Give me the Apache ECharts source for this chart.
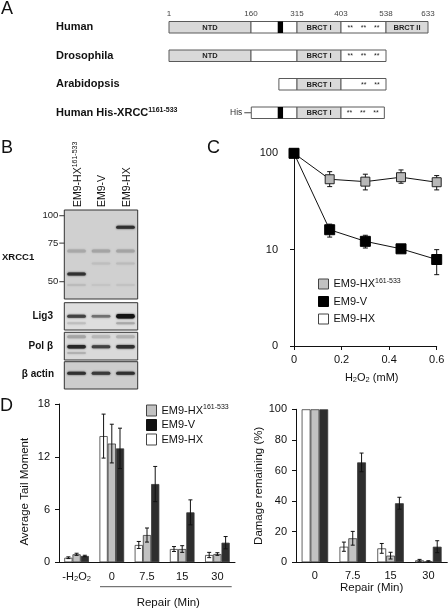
<!DOCTYPE html>
<html><head><meta charset="utf-8">
<script src="https://cdn.jsdelivr.net/npm/echarts@6/dist/echarts.min.js"></script>
<style>html,body{margin:0;padding:0;background:#fff}#c{width:448px;height:608px}</style>
</head><body><div id="c"></div>
<script>
// ===== Panel A: domain architecture =====
const constructs = ['Human', 'Drosophila', 'Arabidopsis', 'Human His-XRCC1161-533'];
const residueTicks = [1, 160, 315, 403, 538, 633];
// [row, startResidue, endResidue, kind, label]
const domains = [
  [0, 1, 160, 'fill', 'NTD'], [0, 160, 315, 'empty', ''], [0, 250, 268, 'nls', ''],
  [0, 315, 403, 'fill', 'BRCT I'], [0, 403, 538, 'empty', '**    **    **'], [0, 538, 633, 'fill', 'BRCT II'],
  [1, 1, 160, 'fill', 'NTD'], [1, 160, 315, 'empty', ''], [1, 315, 403, 'fill', 'BRCT I'],
  [1, 403, 538, 'empty', '**    **    **'],
  [2, 254, 315, 'empty', ''], [2, 315, 403, 'fill', 'BRCT I'], [2, 403, 538, 'empty', '       **    **'],
  [3, 161, 161, 'his', 'His'], [3, 161, 315, 'empty', ''], [3, 250, 268, 'nls', ''],
  [3, 315, 403, 'fill', 'BRCT I'], [3, 403, 533, 'empty', '**    **    **']
];
// ===== Panel B: western blots =====
const lanes = ['EM9-HX161-533', 'EM9-V', 'EM9-HX'];
const markerKDa = [100, 75, 50];
// [lane, kDa, intensity, thickness]
const xrcc1Bands = [[0, 54.2, 0.85, 3], [2, 88.5, 0.85, 3], [0, 69, 0.2, 3], [1, 69, 0.22, 3], [2, 69, 0.22, 3],
  [1, 60.6, 0.08, 2], [2, 60.6, 0.1, 2], [0, 48.3, 0.1, 2], [1, 48.3, 0.05, 2], [2, 48.3, 0.06, 2]];
// [lane, relative position, intensity, thickness]
const lig3Bands = [[0, 0.5, 0.75, 3], [1, 0.5, 0.5, 2.5], [2, 0.5, 1, 4.5], [2, 0.25, 0.2, 2], [0, 0.25, 0.08, 2]];
const polbBands = [[0, 0.48, 0.9, 3.5], [1, 0.48, 0.75, 3], [2, 0.48, 0.85, 3.5], [0, 0.84, 0.22, 3], [1, 0.84, 0.12, 3], [2, 0.84, 0.15, 3], [0, 0.25, 0.15, 2]];
const actinBands = [[0, 0.575, 0.85, 3], [1, 0.575, 0.8, 3], [2, 0.575, 0.85, 3]];
// ===== Panel C: survival =====
const doseMM = [0, 0.15, 0.3, 0.45, 0.6];
const survHX161 = [100, 53.8, 50.8, 56.5, 50.1];
const survHX161Lo = [100, 45.1, 41.7, 48.9, 41.7];
const survHX161Hi = [100, 64.5, 60.7, 67.2, 58.7];
const survV = [100, 16.1, 12.2, 10.2, 7.9];
const survVLo = [100, 13.5, 10.4, 10.0, 5.5];
const survVHi = [100, 18.4, 14.1, 10.4, 10.0];
const survHX = [];
// ===== Panel D left: tail moment =====
const tailCats = ['-H2O2', '0', '7.5', '15', '30'];
const tailHX = [0.52, 14.35, 1.97, 1.51, 0.83];
const tailHXErr = [0.1, 2.5, 0.4, 0.28, 0.3];
const tailHX161 = [0.91, 13.5, 3.1, 1.51, 0.94];
const tailHX161Err = [0.12, 2.2, 0.8, 0.38, 0.15];
const tailV = [0.72, 12.95, 8.9, 5.68, 2.23];
const tailVErr = [0.08, 2.3, 2.0, 1.42, 0.7];
// ===== Panel D right: damage remaining =====
const damCats = ['0', '7.5', '15', '30'];
const damHX = [100, 10.2, 9.1, 1.3];
const damHXErr = [0, 3, 3.2, 0.6];
const damHX161 = [100, 15.7, 4.35, 0.65];
const damHX161Err = [0, 4.5, 2.2, 0.4];
const damV = [100, 65.3, 38.6, 10.2];
const damVErr = [0, 6.1, 3.9, 3.9];

const FONT = 'Liberation Sans, Arial, Helvetica, sans-serif';
const C_WHITE = '#ffffff', C_GRAY = '#c2c2c2', C_BLACK = '#2e2e2e';

// schematic (not-to-scale) layout of residue positions
const BREAK_RES = [1, 160, 315, 403, 538, 633];
const BREAK_UNIT = [0, 82, 128, 172, 217, 259];
function toUnit(r) {
  for (let i = 1; i < BREAK_RES.length; i++) {
    if (r <= BREAK_RES[i] || i === BREAK_RES.length - 1) {
      const a = BREAK_RES[i - 1], b = BREAK_RES[i];
      return BREAK_UNIT[i - 1] + (r - a) / (b - a) * (BREAK_UNIT[i] - BREAK_UNIT[i - 1]);
    }
  }
}
function supRich(size, bold) {
  return {
    m: { fontSize: size, fontFamily: FONT, fontWeight: bold ? 'bold' : 'normal', color: '#111', fill: '#111', lineHeight: size + 2 },
    sup: { fontSize: Math.round(size * 0.62), fontFamily: FONT, fontWeight: bold ? 'bold' : 'normal', color: '#111', fill: '#111', verticalAlign: 'top', lineHeight: size * 0.62 },
    s: { fontSize: Math.round(size * 0.68), fontFamily: FONT, color: '#111', fill: '#111', verticalAlign: 'bottom', lineHeight: size * 0.7 }
  };
}
function fmtName(n) {
  const m = n.match(/^(.*?)(\d+-\d+)$/);
  return m ? '{m|' + m[1] + '}{sup|' + m[2] + '}' : '{m|' + n + '}';
}

function renderDomain(params, api) {
  const d = domains[params.dataIndex];
  const row = d[0], kind = d[3], label = d[4];
  const p0 = api.coord([toUnit(d[1]), row]);
  const p1 = api.coord([toUnit(d[2]), row]);
  const cy = p0[1], h = 11.5;
  if (kind === 'his') {
    return { type: 'group', children: [
      { type: 'line', shape: { x1: p0[0] - 7, y1: cy, x2: p0[0], y2: cy }, style: { stroke: '#444', lineWidth: 1 } },
      { type: 'text', style: { text: label, x: p0[0] - 9, y: cy, align: 'right', verticalAlign: 'middle', fontSize: 8.5, fontFamily: FONT, fill: '#333' } }
    ] };
  }
  const fill = kind === 'fill' ? '#d9d9d9' : (kind === 'nls' ? '#000' : '#fff');
  const children = [{ type: 'rect', shape: { x: p0[0], y: cy - h / 2, width: p1[0] - p0[0], height: h },
    style: { fill: fill, stroke: kind === 'nls' ? null : '#5a5a5a', lineWidth: 1 } }];
  if (label) children.push({ type: 'text', style: { text: label, x: (p0[0] + p1[0]) / 2, y: cy + 0.5, align: 'center', verticalAlign: 'middle',
    fontSize: kind === 'fill' ? 7.5 : 7, fontWeight: kind === 'fill' ? 'bold' : 'normal', fontFamily: FONT, fill: '#222' } });
  return { type: 'group', children: children };
}
function renderResTick(params, api) {
  const p = api.coord([toUnit(api.value(0)), 0]);
  return { type: 'text', style: { text: String(api.value(0)), x: p[0], y: p[1] - 13.5, align: 'center', verticalAlign: 'middle', fontSize: 8, fontFamily: FONT, fill: '#444' } };
}
function renderMarker(params, api) {
  const p = api.coord([0, api.value(1)]);
  const left = params.coordSys.x;
  return { type: 'group', children: [
    { type: 'line', shape: { x1: left - 5, y1: p[1], x2: left, y2: p[1] }, style: { stroke: '#333', lineWidth: 1 } },
    { type: 'text', style: { text: String(api.value(1)), x: left - 6, y: p[1], align: 'right', verticalAlign: 'middle', fontSize: 9.5, fontFamily: FONT, fill: '#222' } }
  ] };
}
function renderLane(params, api) {
  const p = api.coord([api.value(0), 100]);
  const top = params.coordSys.y;
  return { type: 'text', x: p[0] + 1.5, y: top - 3, rotation: Math.PI / 2,
    style: { text: fmtName(lanes[params.dataIndex]), align: 'left', verticalAlign: 'middle', rich: supRich(10.5, false) } };
}
function renderBand(params, api) {
  const p = api.coord([api.value(0), api.value(1)]);
  const bw = api.size([1, 0])[0] * 0.76;
  const it = api.value(2), th = api.value(3);
  const g = Math.round(205 - it * 185);
  const col = 'rgb(' + g + ',' + g + ',' + g + ')';
  return { type: 'rect', shape: { x: p[0] - bw / 2, y: p[1] - th / 2, width: bw, height: th, r: th / 2 },
    style: { fill: col, shadowBlur: 2, shadowColor: col } };
}
function renderVErr(params, api) {
  const x = api.value(0);
  const a = api.coord([x, api.value(1)]), b = api.coord([x, api.value(2)]);
  const c = 2.5, st = { stroke: '#111', lineWidth: 1 };
  return { type: 'group', children: [
    { type: 'line', shape: { x1: a[0], y1: a[1], x2: b[0], y2: b[1] }, style: st },
    { type: 'line', shape: { x1: a[0] - c, y1: a[1], x2: a[0] + c, y2: a[1] }, style: st },
    { type: 'line', shape: { x1: b[0] - c, y1: b[1], x2: b[0] + c, y2: b[1] }, style: st }
  ] };
}
const GAP = 0.3;
function renderGroupErr(params, api) {
  const cat = api.value(0), s = api.value(1);
  const band = api.size([1, 0])[0];
  const bw = band * (1 - GAP) / 3;
  const cx = api.coord([cat, 0])[0] + (s - 1) * bw;
  const yLo = api.coord([cat, api.value(2)])[1], yHi = api.coord([cat, api.value(3)])[1];
  const c = 2, st = { stroke: '#111', lineWidth: 1 };
  return { type: 'group', children: [
    { type: 'line', shape: { x1: cx, y1: yLo, x2: cx, y2: yHi }, style: st },
    { type: 'line', shape: { x1: cx - c, y1: yLo, x2: cx + c, y2: yLo }, style: st },
    { type: 'line', shape: { x1: cx - c, y1: yHi, x2: cx + c, y2: yHi }, style: st }
  ] };
}
function errData(vals, errs) {
  const out = [];
  vals.forEach((v, s) => v.forEach((y, i) => { if (errs[s][i] > 0) out.push([i, s, Math.max(0, y - errs[s][i]), y + errs[s][i]]); }));
  return out;
}

const axisLineStyle = { lineStyle: { color: '#111', width: 1 } };
const lbl = { fontSize: 11, fontFamily: FONT, color: '#111' };
const hidden = { show: false };

const grids = [
  { left: 169, top: 13, width: 259, height: 114 },                     // 0 A
  { left: 64.3, top: 210, width: 73.4, height: 89, show: true, backgroundColor: '#d0d0d0', borderColor: '#333', borderWidth: 1 }, // 1 XRCC1
  { left: 64.3, top: 302.7, width: 73.4, height: 27.3, show: true, backgroundColor: '#dedede', borderColor: '#333', borderWidth: 1 }, // 2 Lig3
  { left: 64.3, top: 332.3, width: 73.4, height: 27.7, show: true, backgroundColor: '#dadada', borderColor: '#333', borderWidth: 1 }, // 3 Pol b
  { left: 64.3, top: 361.7, width: 73.4, height: 27.3, show: true, backgroundColor: '#cdcdcd', borderColor: '#333', borderWidth: 1 }, // 4 actin
  { left: 294, top: 153.3, width: 142.7, height: 192.7 },               // 5 C
  { left: 59, top: 404, width: 176, height: 158.3 },                    // 6 D left
  { left: 296, top: 409.3, width: 151.3, height: 153 }                  // 7 D right
].map(g => Object.assign({ outerBoundsMode: 'none', containLabel: false }, g));

const xAxes = [
  { gridIndex: 0, type: 'value', min: 0, max: 259, show: false },
  { gridIndex: 1, type: 'category', data: lanes, show: false },
  { gridIndex: 2, type: 'category', data: lanes, show: false },
  { gridIndex: 3, type: 'category', data: lanes, show: false },
  { gridIndex: 4, type: 'category', data: lanes, show: false },
  { gridIndex: 5, type: 'value', min: 0, max: 0.6, interval: 0.2, axisLine: axisLineStyle, axisTick: { length: 4, lineStyle: { color: '#111' } },
    splitLine: hidden, axisLabel: Object.assign({ margin: 8 }, lbl) },
  { gridIndex: 6, type: 'category', data: tailCats, axisLine: axisLineStyle, axisTick: { length: 4, lineStyle: { color: '#111' } },
    axisLabel: { margin: 8, interval: 0, formatter: v => v === '-H2O2' ? '{n|-H}{s|2}{n|O}{s|2}' : '{n|' + v + '}',
      rich: { n: { fontSize: 11, fontFamily: FONT, color: '#111', lineHeight: 13 }, s: { fontSize: 7.5, fontFamily: FONT, color: '#111', verticalAlign: 'bottom', lineHeight: 9 } } } },
  { gridIndex: 7, type: 'category', data: damCats, axisLine: axisLineStyle, axisTick: { length: 4, lineStyle: { color: '#111' } },
    axisLabel: Object.assign({ margin: 8, interval: 0 }, lbl),
    name: 'Repair (Min)', nameLocation: 'middle', nameGap: 20, nameTextStyle: { fontSize: 11.5, fontFamily: FONT, color: '#111' } }
];
const yAxes = [
  { gridIndex: 0, type: 'category', data: constructs, inverse: true, axisLine: hidden, axisTick: hidden,
    axisLabel: { align: 'left', margin: 113, formatter: fmtName, rich: supRich(11, true) } },
  { gridIndex: 1, type: 'log', logBase: 10, min: 41.7, max: 106.2, show: false },
  { gridIndex: 2, type: 'value', min: 0, max: 1, show: false },
  { gridIndex: 3, type: 'value', min: 0, max: 1, show: false },
  { gridIndex: 4, type: 'value', min: 0, max: 1, show: false },
  { gridIndex: 5, type: 'log', logBase: 10, min: 1, max: 100, axisLine: { show: true, lineStyle: { color: '#111', width: 1 } },
    axisTick: { show: true, length: 4, lineStyle: { color: '#111' } }, splitLine: hidden,
    axisLabel: Object.assign({ margin: 16, formatter: v => Math.round(v) === 1 ? '0' : String(Math.round(v)) }, lbl) },
  { gridIndex: 6, type: 'value', min: 0, max: 18, interval: 6, axisLine: { show: true, lineStyle: { color: '#111', width: 1 } },
    axisTick: { show: true, length: 4, lineStyle: { color: '#111' } }, splitLine: hidden, axisLabel: Object.assign({ margin: 9 }, lbl) },
  { gridIndex: 7, type: 'value', min: 0, max: 100, interval: 20, axisLine: { show: true, lineStyle: { color: '#111', width: 1 } },
    axisTick: { show: true, length: 4, lineStyle: { color: '#111' } }, splitLine: hidden, axisLabel: Object.assign({ margin: 9 }, lbl),
    name: 'Damage remaining (%)', nameLocation: 'middle', nameGap: 29, nameRotate: 90, nameTextStyle: { fontSize: 11.5, fontFamily: FONT, color: '#111' } }
];

const barStyle = (fill) => ({ color: fill, borderColor: '#3a3a3a', borderWidth: 0.8 });
const series = [
  { type: 'custom', xAxisIndex: 0, yAxisIndex: 0, renderItem: renderDomain, data: domains.map(d => [d[0], d[1], d[2]]), encode: { x: [1, 2], y: 0 } },
  { type: 'custom', xAxisIndex: 0, yAxisIndex: 0, renderItem: renderResTick, data: residueTicks.map(r => [r, 0]), encode: { x: 0, y: 1 } },
  { type: 'custom', xAxisIndex: 1, yAxisIndex: 1, renderItem: renderMarker, data: markerKDa.map(k => [0, k]), encode: { x: 0, y: 1 } },
  { type: 'custom', xAxisIndex: 1, yAxisIndex: 1, renderItem: renderLane, data: lanes.map((l, i) => [i, 100]), encode: { x: 0, y: 1 } },
  { type: 'custom', xAxisIndex: 1, yAxisIndex: 1, renderItem: renderBand, data: xrcc1Bands, encode: { x: 0, y: 1 } },
  { type: 'custom', xAxisIndex: 2, yAxisIndex: 2, renderItem: renderBand, data: lig3Bands, encode: { x: 0, y: 1 } },
  { type: 'custom', xAxisIndex: 3, yAxisIndex: 3, renderItem: renderBand, data: polbBands, encode: { x: 0, y: 1 } },
  { type: 'custom', xAxisIndex: 4, yAxisIndex: 4, renderItem: renderBand, data: actinBands, encode: { x: 0, y: 1 } },
  // C
  { type: 'custom', xAxisIndex: 5, yAxisIndex: 5, z: 2, renderItem: renderVErr, encode: { x: 0, y: [1, 2] },
    data: doseMM.map((x, i) => [x, survHX161Lo[i], survHX161Hi[i]]) },
  { type: 'custom', xAxisIndex: 5, yAxisIndex: 5, z: 2, renderItem: renderVErr, encode: { x: 0, y: [1, 2] },
    data: doseMM.map((x, i) => [x, survVLo[i], survVHi[i]]) },
  { name: 'EM9-HX', type: 'line', xAxisIndex: 5, yAxisIndex: 5, z: 3, data: survHX, symbol: 'rect', symbolSize: 9,
    itemStyle: { color: C_WHITE, borderColor: '#222', borderWidth: 1 }, lineStyle: { color: '#111', width: 1 } },
  { name: 'EM9-HX161-533', type: 'line', xAxisIndex: 5, yAxisIndex: 5, z: 3, data: doseMM.map((x, i) => [x, survHX161[i]]),
    symbol: 'rect', symbolSize: 9, itemStyle: { color: '#b8b8b8', borderColor: '#222', borderWidth: 1 }, lineStyle: { color: '#111', width: 1 } },
  { name: 'EM9-V', type: 'line', xAxisIndex: 5, yAxisIndex: 5, z: 4, data: doseMM.map((x, i) => [x, survV[i]]),
    symbol: 'rect', symbolSize: 10, itemStyle: { color: '#000', borderColor: '#000', borderWidth: 1 }, lineStyle: { color: '#111', width: 1 } },
  // D left
  { name: 'EM9-HX', type: 'bar', xAxisIndex: 6, yAxisIndex: 6, data: tailHX, barGap: 0, barCategoryGap: '30%', itemStyle: barStyle(C_WHITE) },
  { name: 'EM9-HX161-533', type: 'bar', xAxisIndex: 6, yAxisIndex: 6, data: tailHX161, barGap: 0, barCategoryGap: '30%', itemStyle: barStyle(C_GRAY) },
  { name: 'EM9-V', type: 'bar', xAxisIndex: 6, yAxisIndex: 6, data: tailV, barGap: 0, barCategoryGap: '30%', itemStyle: barStyle(C_BLACK) },
  { type: 'custom', xAxisIndex: 6, yAxisIndex: 6, z: 5, renderItem: renderGroupErr, encode: { x: 0, y: [2, 3] },
    data: errData([tailHX, tailHX161, tailV], [tailHXErr, tailHX161Err, tailVErr]) },
  // D right
  { name: 'EM9-HX', type: 'bar', xAxisIndex: 7, yAxisIndex: 7, data: damHX, barGap: 0, barCategoryGap: '30%', itemStyle: barStyle(C_WHITE) },
  { name: 'EM9-HX161-533', type: 'bar', xAxisIndex: 7, yAxisIndex: 7, data: damHX161, barGap: 0, barCategoryGap: '30%', itemStyle: barStyle(C_GRAY) },
  { name: 'EM9-V', type: 'bar', xAxisIndex: 7, yAxisIndex: 7, data: damV, barGap: 0, barCategoryGap: '30%', itemStyle: barStyle(C_BLACK) },
  { type: 'custom', xAxisIndex: 7, yAxisIndex: 7, z: 5, renderItem: renderGroupErr, encode: { x: 0, y: [2, 3] },
    data: errData([damHX, damHX161, damV], [damHXErr, damHX161Err, damVErr]) }
];

const legendItems = (black) => [
  { name: 'EM9-HX161-533', icon: 'rect', itemStyle: { color: C_GRAY, borderColor: '#444', borderWidth: 1 } },
  { name: 'EM9-V', icon: 'rect', itemStyle: { color: black, borderColor: black, borderWidth: 1 } },
  { name: 'EM9-HX', icon: 'rect', itemStyle: { color: '#fff', borderColor: '#444', borderWidth: 1 } }
];
const legendText = { rich: supRich(11, false) };

const txt = (text, x, y, opts) => ({ type: 'text', x: x, y: y, style: Object.assign({ text: text, fontFamily: FONT, fontSize: 11, fill: '#111' }, opts || {}) });

const option = {
  animation: false,
  backgroundColor: '#fff',
  textStyle: { fontFamily: FONT },
  grid: grids, xAxis: xAxes, yAxis: yAxes, series: series,
  legend: [
    { orient: 'vertical', left: 318, top: 277.5, padding: 0, itemWidth: 10, itemHeight: 10, itemGap: 6.5, selectedMode: false,
      data: legendItems('#000'), formatter: fmtName, textStyle: legendText },
    { orient: 'vertical', left: 146, top: 404, padding: 0, itemWidth: 10, itemHeight: 11, itemGap: 2.5, selectedMode: false,
      data: legendItems('#111'), formatter: fmtName, textStyle: legendText }
  ],
  graphic: [
    txt('A', 1, 0.5, { fontSize: 18, verticalAlign: 'top' }),
    txt('B', 1, 139, { fontSize: 18, verticalAlign: 'top' }),
    txt('C', 207, 139, { fontSize: 18, verticalAlign: 'top' }),
    txt('D', 0, 397.5, { fontSize: 18, verticalAlign: 'top' }),
    txt('XRCC1', 2, 257, { fontSize: 9.5, fontWeight: 'bold', verticalAlign: 'middle' }),
    txt('Lig3', 53, 316.7, { fontSize: 10, fontWeight: 'bold', align: 'right', verticalAlign: 'middle' }),
    txt('Pol β', 53, 346.7, { fontSize: 10, fontWeight: 'bold', align: 'right', verticalAlign: 'middle' }),
    txt('β actin', 54, 374.5, { fontSize: 10, fontWeight: 'bold', align: 'right', verticalAlign: 'middle' }),
    { type: 'text', x: 371.7, y: 377.5, style: { text: '{n|H}{s|2}{n|O}{s|2}{n| (mM)}', align: 'center', verticalAlign: 'middle',
      rich: { n: { fontSize: 11, fontFamily: FONT, fill: '#111', lineHeight: 13 }, s: { fontSize: 7.5, fontFamily: FONT, fill: '#111', verticalAlign: 'bottom', lineHeight: 9 } } } },
    { type: 'line', shape: { x1: 100, y1: 586.7, x2: 231.7, y2: 586.7 }, style: { stroke: '#555', lineWidth: 1 } },
    txt('Repair (Min)', 168.3, 603, { fontSize: 11.5, align: 'center', verticalAlign: 'middle' }),
    txt('Average Tail Moment', 25, 491.7, { fontSize: 11.5, align: 'center', verticalAlign: 'middle' })
  ]
};
// rotate the left y-title
option.graphic[option.graphic.length - 1].rotation = Math.PI / 2;

const chart = echarts.init(document.getElementById('c'), null, { renderer: 'canvas' });
chart.setOption(option);
</script></body></html>
